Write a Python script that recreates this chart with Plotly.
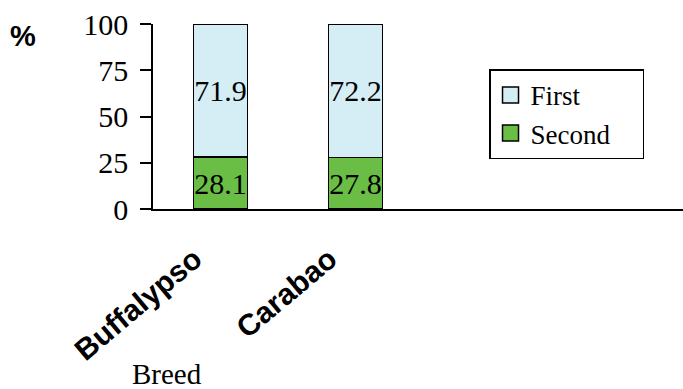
import plotly.graph_objects as go

breeds = ["Buffalypso", "Carabao"]
first = [71.9, 72.2]
second = [28.1, 27.8]
y_ticks = [0, 25, 50, 75, 100]

xpos = list(range(len(breeds)))
SERIF = "Liberation Serif, Times New Roman, Times, serif"
SANS = "Liberation Sans, Arial, Helvetica, sans-serif"
blue = "#D5EDF4"
green = "#6ABD45"
NB = "\u00a0"

fig = go.Figure()
fig.add_trace(go.Bar(x=xpos, y=second, name="Second", width=0.4,
                     marker=dict(color=green, line=dict(color="black", width=1.5)),
                     text=[f"{v:.1f}" for v in second], textposition="inside",
                     insidetextanchor="middle", constraintext="none", textangle=0,
                     textfont=dict(family=SERIF, size=30, color="black"),
                     showlegend=False, hoverinfo="skip"))
fig.add_trace(go.Bar(x=xpos, y=first, name="First", width=0.4,
                     marker=dict(color=blue, line=dict(color="black", width=1.5)),
                     text=[f"{v:.1f}" for v in first], textposition="inside",
                     insidetextanchor="middle", constraintext="none", textangle=0,
                     textfont=dict(family=SERIF, size=30, color="black"),
                     showlegend=False, hoverinfo="skip"))
# legend entries
for name, col in [("First", blue), ("Second" + NB * 4, green)]:
    fig.add_trace(go.Scatter(x=[None], y=[None], mode="markers", name=name,
                             marker=dict(symbol="square", size=16, color=col,
                                         line=dict(color="black", width=1.5))))

pw, ph = 683 - 153, 389 - 24 - 180


def px2paper(px, py):
    return (px - 153) / pw, (389 - 180 - py) / ph


ax_pct = px2paper(23, 36)
ax_breed = px2paper(167, 392)

fig.update_layout(
    width=683, height=389, barmode="stack",
    margin=dict(l=153, r=0, t=24, b=180),
    paper_bgcolor="white", plot_bgcolor="white",
    showlegend=True,
    legend=dict(x=0.634, y=0.755, xanchor="left", yanchor="top",
                bordercolor="black", borderwidth=1.5, bgcolor="white",
                font=dict(family=SERIF, size=27, color="black"),
                traceorder="normal", itemwidth=30, tracegroupgap=0),
    xaxis=dict(range=[-0.5, 530 / 135 - 0.5], tickvals=xpos, ticktext=breeds,
               tickangle=-40, ticks="", ticklabelstandoff=19, ticklabelshift=-26,
               tickfont=dict(family=SANS, size=30, color="black", weight="bold"),
               showline=True, linecolor="black", linewidth=1.5,
               showgrid=False, zeroline=False, fixedrange=True),
    yaxis=dict(range=[0, 100], tickvals=y_ticks, ticks="outside", ticklen=11,
               tickcolor="black", tickwidth=1.5, ticklabelstandoff=6,
               tickfont=dict(family=SERIF, size=30, color="black"),
               showline=True, linecolor="black", linewidth=1.5,
               showgrid=False, zeroline=False, fixedrange=True),
    annotations=[
        dict(text="%", x=ax_pct[0], y=ax_pct[1], xref="paper", yref="paper",
             xanchor="center", yanchor="middle", showarrow=False,
             font=dict(family=SANS, size=29, color="black", weight="bold")),
        dict(text="Breed", x=ax_breed[0], y=ax_breed[1], xref="paper", yref="paper",
             xanchor="center", yanchor="bottom", showarrow=False,
             font=dict(family=SERIF, size=29, color="black")),
    ],
)

fig.write_html("out.html")
